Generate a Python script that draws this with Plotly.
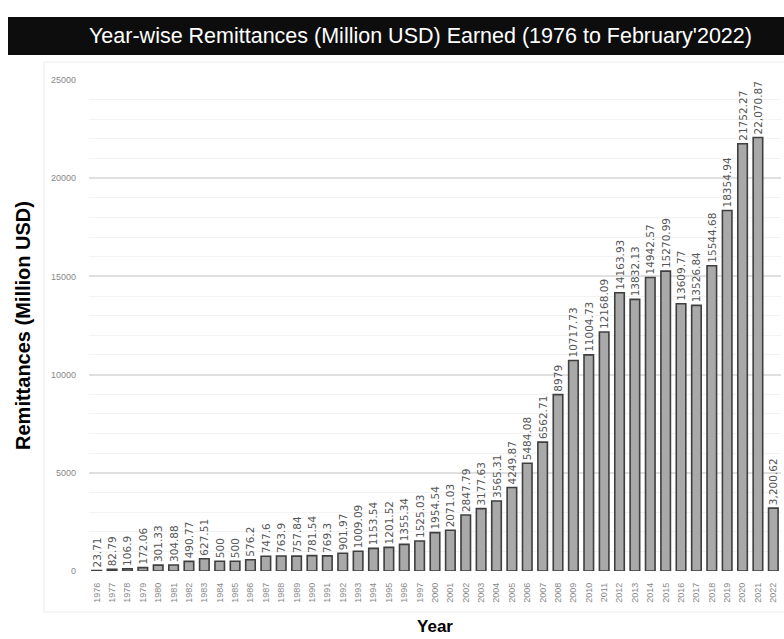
import plotly.graph_objects as go

years = [str(y) for y in range(1976, 1998)] + [str(y) for y in range(2000, 2023)]
remittances = [23.71, 82.79, 106.9, 172.06, 301.33, 304.88, 490.77, 627.51, 500, 500,
               576.2, 747.6, 763.9, 757.84, 781.54, 769.3, 901.97, 1009.09, 1153.54,
               1201.52, 1355.34, 1525.03, 1954.54, 2071.03, 2847.79, 3177.63, 3565.31,
               4249.87, 5484.08, 6562.71, 8979, 10717.73, 11004.73, 12168.09, 14163.93,
               13832.13, 14942.57, 15270.99, 13609.77, 13526.84, 15544.68, 18354.94,
               21752.27, 22070.87, 3200.62]
value_labels = ["23.71", "82.79", "106.9", "172.06", "301.33", "304.88", "490.77", "627.51",
                "500", "500", "576.2", "747.6", "763.9", "757.84", "781.54", "769.3",
                "901.97", "1009.09", "1153.54", "1201.52", "1355.34", "1525.03", "1954.54",
                "2071.03", "2847.79", "3177.63", "3565.31", "4249.87", "5484.08", "6562.71",
                "8979", "10717.73", "11004.73", "12168.09", "14163.93", "13832.13",
                "14942.57", "15270.99", "13609.77", "13526.84", "15544.68", "18354.94",
                "21752.27", "22,070.87", "3,200.62"]
y_ticks = [0, 5000, 10000, 15000, 20000, 25000]
y_tick_text = ["0", "5000", "10000", "15000", "20000", "25000"]

fig = go.Figure()
fig.add_trace(go.Bar(
    x=years, y=remittances, text=value_labels,
    textposition="outside", textangle=-90, constraintext="none", cliponaxis=False,
    textfont=dict(family="DejaVu Sans", size=10.5, color="#555555"),
    marker=dict(color="#a9a9a9", line=dict(color="#3f3f3f", width=1.6)),
    width=0.62,
))

L, R, T, B = 89, 3, 80, 68
W, H = 784, 639
pw, ph = W - L - R, H - T - B
def px(x):
    return (x - L) / pw
def py(y):
    return (H - B - y) / ph

fig.update_layout(
    width=W, height=H,
    margin=dict(l=L, r=R, t=T, b=B),
    paper_bgcolor="white", plot_bgcolor="white",
    showlegend=False,
    font=dict(family="Liberation Sans"),
    xaxis=dict(
        type="category", tickangle=-90, range=[-0.5, len(years) - 0.5],
        tickfont=dict(size=9, color="#888888", family="Liberation Sans"),
        ticklabelstandoff=9, showgrid=False, zeroline=False, showline=False,
        title=dict(text="<b>Year</b>", font=dict(size=17, color="black"), standoff=18),
    ),
    yaxis=dict(
        range=[0, 25000], tickvals=y_ticks, ticktext=y_tick_text,
        tickfont=dict(size=9, color="#888888", family="Liberation Sans"),
        ticklabelstandoff=12,
        showgrid=True, gridcolor="#e0e0e0", gridwidth=1.5, zeroline=False,
        minor=dict(dtick=1000, showgrid=True, gridcolor="#f3f3f3", gridwidth=1),
        title=dict(text="<b>Remittances (Million USD)</b>", font=dict(size=20, color="black"), standoff=14),
    ),
    shapes=[
        dict(type="rect", xref="paper", yref="paper", x0=px(44), x1=px(790), y0=py(612), y1=py(62),
             line=dict(color="#ececec", width=1), fillcolor="rgba(0,0,0,0)", layer="below"),
        dict(type="rect", xref="paper", yref="paper", x0=px(8), x1=px(790), y0=py(55), y1=py(17),
             line=dict(width=0), fillcolor="#0d0d0d", layer="above"),
    ],
    annotations=[
        dict(text="Year-wise Remittances (Million USD) Earned (1976 to February'2022)",
             xref="paper", yref="paper", x=px(420), y=py(36), showarrow=False,
             xanchor="center", yanchor="middle",
             font=dict(family="Liberation Sans", size=21.5, color="white")),
    ],
)

fig.write_html("out.html")
